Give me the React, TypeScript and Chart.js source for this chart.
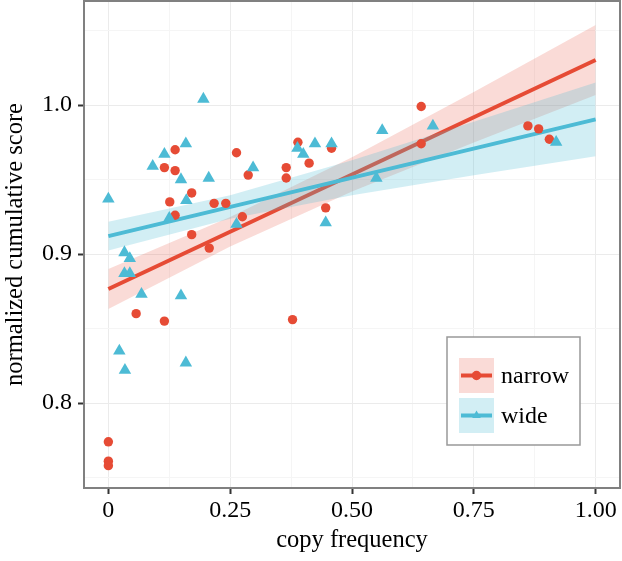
import { useEffect, useRef } from "react";
import { Chart, registerables } from "chart.js";

Chart.register(...registerables);

// ---------- data ----------
const seriesNames = ["narrow", "wide"];

const narrowX = [0.137, 0.263, 0.115, 0.137, 0.171, 0.126, 0.217, 0.241, 0.137, 0.275, 0.171, 0.207, 0.287, 0.365, 0.365, 0.389, 0.412, 0.458, 0.446, 0.642, 0.642, 0.861, 0.883, 0.905, 0.057, 0.115, 0.378, 0, 0, 0];
const narrowY = [0.970, 0.968, 0.958, 0.956, 0.941, 0.935, 0.934, 0.934, 0.926, 0.925, 0.913, 0.904, 0.953, 0.958, 0.951, 0.975, 0.961, 0.971, 0.931, 0.999, 0.974, 0.986, 0.984, 0.977, 0.860, 0.855, 0.856, 0.774, 0.761, 0.758];

const wideX = [0.195, 0, 0.115, 0.159, 0.091, 0.149, 0.206, 0.160, 0.125, 0.297, 0.263, 0.388, 0.400, 0.424, 0.458, 0.446, 0.033, 0.044, 0.033, 0.044, 0.068, 0.149, 0.0225, 0.034, 0.159, 0.562, 0.666, 0.550, 0.919];
const wideY = [1.004, 0.937, 0.967, 0.974, 0.959, 0.950, 0.951, 0.936, 0.924, 0.958, 0.920, 0.971, 0.967, 0.974, 0.974, 0.921, 0.901, 0.897, 0.887, 0.887, 0.873, 0.872, 0.835, 0.822, 0.827, 0.983, 0.986, 0.951, 0.975];

const fitX = [0, 1];
const narrowFit = [0.8765, 1.0302];
const wideFit = [0.912, 0.9904];

const bandX = [0, 0.25, 0.5, 0.75, 1.0];
const narrowLower = [0.8631, 0.905, 0.9419, 0.9749, 1.0067];
const narrowUpper = [0.8899, 0.9248, 0.9649, 1.0087, 1.0537];
const wideLower = [0.9023, 0.9237, 0.9395, 0.9529, 0.9657];
const wideUpper = [0.9217, 0.9395, 0.9629, 0.9887, 1.0151];

const xTicks = [0, 0.25, 0.5, 0.75, 1.0];
const xTickLabels = ["0", "0.25", "0.50", "0.75", "1.00"];
const xMinorTicks = [0.125, 0.375, 0.625, 0.875];
const yTicks = [0.8, 0.9, 1.0];
const yTickLabels = ["0.8", "0.9", "1.0"];
const yMinorTicks = [0.75, 0.85, 0.95, 1.05];

const xTitle = "copy frequency";
const yTitle = "normalized cumulative score";

// ---------- style ----------
const RED = "#E64B35";
const BLUE = "#4DBBD5";
const RED_BAND = "rgba(230,75,53,0.2)";
const BLUE_BAND = "rgba(77,187,213,0.25)";
const FONT = "'Liberation Serif', 'Times New Roman', serif";

const pts = (xs: number[], ys: number[]) => xs.map((x, i) => ({ x, y: ys[i] }));

const panelPlugin = {
  id: "panelAndLegend",
  afterDatasetsDraw(chart: any) {
    const { ctx, chartArea: a } = chart;
    ctx.save();
    ctx.strokeStyle = "#808080";
    ctx.lineWidth = 2;
    ctx.strokeRect(a.left, a.top, a.right - a.left, a.bottom - a.top);
    ctx.restore();
  },
  afterDraw(chart: any) {
    const { ctx, chartArea: a } = chart;
    ctx.save();
    const bx = a.right - 173;
    const by = a.bottom - 151;
    const bw = 133;
    const bh = 108;
    ctx.fillStyle = "#ffffff";
    ctx.fillRect(bx, by, bw, bh);
    ctx.strokeStyle = "#999999";
    ctx.lineWidth = 1.5;
    ctx.strokeRect(bx, by, bw, bh);
    const colors = [RED, BLUE];
    const bands = [RED_BAND, BLUE_BAND];
    seriesNames.forEach((name, i) => {
      const kx = bx + 12;
      const ky = by + 21 + i * 40;
      ctx.fillStyle = bands[i];
      ctx.fillRect(kx, ky, 35, 35);
      const cy = ky + 17.5;
      ctx.strokeStyle = colors[i];
      ctx.lineWidth = 4;
      ctx.beginPath();
      ctx.moveTo(kx + 2, cy);
      ctx.lineTo(kx + 33, cy);
      ctx.stroke();
      ctx.fillStyle = colors[i];
      const cx = kx + 17.5;
      ctx.beginPath();
      if (i === 0) {
        ctx.arc(cx, cy, 4.7, 0, Math.PI * 2);
      } else {
        const r = 5;
        ctx.moveTo(cx, cy - r);
        ctx.lineTo(cx + r * 0.866, cy + r / 2);
        ctx.lineTo(cx - r * 0.866, cy + r / 2);
        ctx.closePath();
      }
      ctx.fill();
      ctx.fillStyle = "#000000";
      ctx.font = `24px ${FONT}`;
      ctx.textBaseline = "alphabetic";
      ctx.textAlign = "left";
      ctx.fillText(name, kx + 42, cy + 7.5);
    });
    ctx.restore();
  },
};

const zeroPad = (scale: any) => {
  scale.paddingTop = 0;
  scale.paddingBottom = 0;
  scale.paddingLeft = 0;
  scale.paddingRight = 0;
};

export default function App() {
  const ref = useRef<HTMLCanvasElement | null>(null);

  useEffect(() => {
    if (!ref.current) return;
    const lineDs = (data: any[], color: string, order: number) => ({
      type: "scatter" as const,
      data,
      showLine: true,
      borderColor: color,
      borderWidth: 4,
      pointRadius: 0,
      fill: false,
      tension: 0,
      order,
    });
    const bandDs = (data: any[], fillColor: string, fill: any, order: number) => ({
      type: "scatter" as const,
      data,
      showLine: true,
      borderColor: "transparent",
      borderWidth: 0,
      backgroundColor: fillColor,
      pointRadius: 0,
      fill,
      tension: 0,
      order,
    });

    const chart = new Chart(ref.current, {
      type: "scatter",
      data: {
        datasets: [
          bandDs(pts(bandX, narrowLower), RED_BAND, false, 20),
          bandDs(pts(bandX, narrowUpper), RED_BAND, "-1", 19),
          lineDs(pts(fitX, narrowFit), RED, 18),
          bandDs(pts(bandX, wideLower), BLUE_BAND, false, 17),
          bandDs(pts(bandX, wideUpper), BLUE_BAND, "-1", 16),
          lineDs(pts(fitX, wideFit), BLUE, 15),
          {
            type: "scatter" as const,
            label: seriesNames[0],
            data: pts(narrowX, narrowY),
            pointStyle: "circle",
            pointRadius: 4.7,
            pointBorderWidth: 0,
            backgroundColor: RED,
            borderColor: RED,
            order: 14,
          },
          {
            type: "scatter" as const,
            label: seriesNames[1],
            data: pts(wideX, wideY),
            pointStyle: "triangle",
            pointRadius: 7.2,
            pointBorderWidth: 0,
            backgroundColor: BLUE,
            borderColor: BLUE,
            order: 13,
          },
        ] as any,
      },
      options: {
        responsive: false,
        animation: false,
        events: [],
        layout: { autoPadding: false, padding: { top: 1, right: 2, left: 0, bottom: 0 } },
        plugins: {
          legend: { display: false },
          tooltip: { enabled: false },
          filler: { drawTime: "beforeDatasetDraw" },
        } as any,
        scales: {
          x: {
            type: "linear",
            min: -0.05,
            max: 1.05,
            afterBuildTicks: (scale: any) => {
              scale.ticks = [...xTicks, ...xMinorTicks].sort((a, b) => a - b).map((v) => ({ value: v }));
            },
            afterFit: (scale: any) => {
              scale.height = 73;
              zeroPad(scale);
            },
            border: { display: false },
            grid: {
              color: (c: any) => (xTicks.includes(c.tick?.value) ? "#EBEBEB" : "#F5F5F5"),
              lineWidth: 1,
              tickColor: (c: any) => (xTicks.includes(c.tick?.value) ? "#333333" : "transparent"),
              tickLength: 6,
              tickWidth: 2,
            },
            ticks: {
              autoSkip: false,
              maxRotation: 0,
              padding: 2,
              color: "#000000",
              font: { family: FONT, size: 24 },
              callback: (v: any) => {
                const i = xTicks.indexOf(Number(v));
                return i >= 0 ? xTickLabels[i] : "";
              },
            },
            title: {
              display: true,
              text: xTitle,
              color: "#000000",
              font: { family: FONT, size: 24.5 },
              padding: { top: 0, bottom: 6 },
            },
          },
          y: {
            type: "linear",
            min: 0.743,
            max: 1.0698,
            afterBuildTicks: (scale: any) => {
              scale.ticks = [...yTicks, ...yMinorTicks].sort((a, b) => a - b).map((v) => ({ value: v }));
            },
            afterFit: (scale: any) => {
              scale.width = 84;
              zeroPad(scale);
            },
            border: { display: false },
            grid: {
              color: (c: any) => (yTicks.includes(c.tick?.value) ? "#EBEBEB" : "#F5F5F5"),
              lineWidth: 1,
              tickColor: (c: any) => (yTicks.includes(c.tick?.value) ? "#333333" : "transparent"),
              tickLength: 6,
              tickWidth: 2,
            },
            ticks: {
              autoSkip: false,
              padding: 6,
              color: "#000000",
              font: { family: FONT, size: 24 },
              callback: (v: any) => {
                const i = yTicks.indexOf(Number(v));
                return i >= 0 ? yTickLabels[i] : "";
              },
            },
            title: {
              display: true,
              text: yTitle,
              color: "#000000",
              font: { family: FONT, size: 24.5 },
              padding: { top: 1, bottom: 0 },
            },
          },
        },
      },
      plugins: [panelPlugin],
    } as any);
    return () => chart.destroy();
  }, []);

  return (
    <div style={{ position: "absolute", left: 0, top: 0, width: 622, height: 561, background: "#ffffff" }}>
      <canvas ref={ref} width={622} height={561} style={{ display: "block" }} />
    </div>
  );
}
